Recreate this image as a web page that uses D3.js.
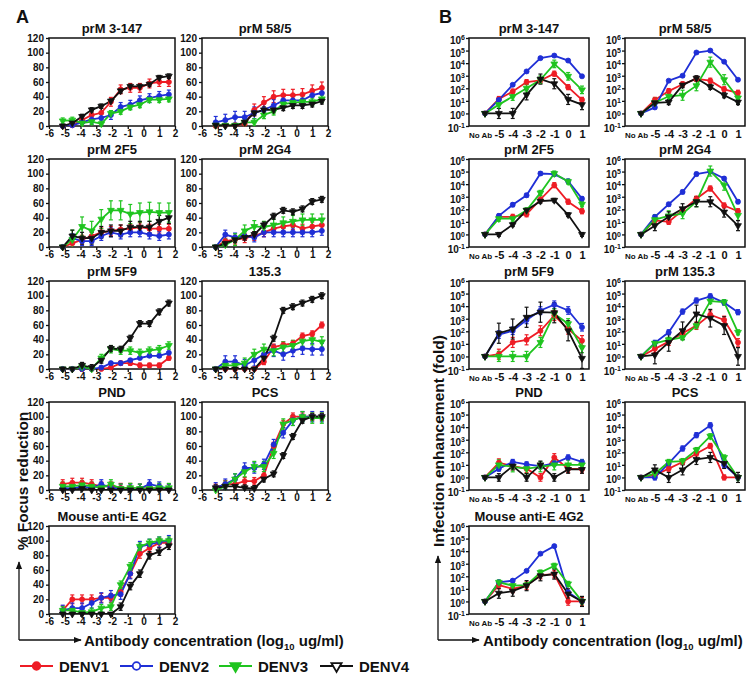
<html>
<head>
<meta charset="utf-8">
<script src="https://cdnjs.cloudflare.com/ajax/libs/d3/7.8.5/d3.min.js"></script>
<style>
    body { margin: 0; background: #fff; }
    svg text { font-family: "Liberation Sans", Arial, sans-serif; font-weight: bold; fill: #111; }
</style>
</head>
<body>
<svg width="751" height="677"></svg>
<script>
// ---- data ----
const serotypes = ["DENV1", "DENV2", "DENV3", "DENV4"];

// panel A: log10 antibody concentration (4-fold dilutions) and % focus reduction
const focusX = [-5.13, -4.52, -3.9, -3.29, -2.68, -2.07, -1.45, -0.84, -0.23, 0.38, 1.0, 1.61];
const focusTicksX = [-6, -5, -4, -3, -2, -1, 0, 1, 2];
const focusTicksY = [0, 20, 40, 60, 80, 100, 120];
const focusTitles = ["prM 3-147", "prM 58/5", "prM 2F5", "prM 2G4", "prM 5F9", "135.3", "PND", "PCS", "Mouse anti-E 4G2"];

// each: [DENV1, DENV2, DENV3, DENV4]
const focus3_147 = [
    [0, 1, 8, 15, 18, 33, 50, 52, 52, 58, 60, 60],
    [0, 1, 5, 9, 11, 15, 26, 29, 35, 38, 41, 43],
    [7, 8, 4, 6, 3, 17, 20, 26, 29, 36, 36, 37],
    [0, 4, 13, 22, 27, 34, 48, 54, 54, 57, 66, 68]
];
const focus58_5 = [
    [0, 1, 1, 3, 22, 32, 40, 42, 42, 43, 48, 52],
    [5, 8, 12, 12, 18, 22, 28, 35, 35, 35, 42, 45],
    [1, 1, 1, 5, 5, 15, 20, 30, 32, 33, 33, 37],
    [1, 0, 0, 5, 18, 22, 22, 25, 28, 28, 30, 34]
];
const focus2F5 = [
    [0, 5, 10, 15, 20, 22, 24, 25, 27, 25, 25, 25],
    [0, 12, 8, 8, 15, 20, 17, 20, 20, 17, 15, 17],
    [0, 10, 28, 22, 38, 50, 50, 45, 47, 48, 47, 47],
    [0, 15, 12, 12, 20, 22, 22, 27, 27, 27, 35, 40]
];
const focus2G4 = [
    [0, 8, 10, 12, 15, 20, 25, 28, 30, 25, 28, 30],
    [0, 17, 13, 15, 13, 20, 20, 20, 20, 20, 20, 22],
    [0, 3, 10, 22, 28, 27, 30, 33, 35, 37, 37, 37],
    [0, 5, 10, 13, 17, 30, 42, 50, 48, 52, 62, 65]
];
const focus5F9 = [
    [0, 0, 0, 0, 0, 2, 8, 8, 5, 5, 5, 15],
    [0, 0, 0, 0, 2, 8, 8, 12, 15, 18, 18, 22],
    [0, 0, 3, 0, 15, 27, 25, 25, 22, 25, 27, 32],
    [0, 0, 5, 2, 12, 28, 27, 42, 62, 62, 78, 90]
];
const focus135_3 = [
    [0, 0, 0, 0, 0, 10, 30, 33, 35, 45, 48, 60],
    [0, 10, 10, 5, 12, 20, 25, 20, 25, 28, 27, 27],
    [0, 5, 5, 8, 20, 27, 25, 30, 32, 38, 40, 37],
    [0, 0, 0, 0, 0, 15, 42, 80, 85, 90, 95, 100]
];
const focusPND = [
    [8, 10, 10, 8, 5, 5, 3, 3, 2, 3, 2, 2],
    [3, 2, 5, 3, 8, 3, 2, 2, 2, 8, 5, 2],
    [5, 5, 7, 5, 3, 8, 2, 3, 2, 2, 3, 3],
    [0, 0, 2, 0, 0, 0, 0, 0, 0, 0, 0, 0]
];
const focusPCS = [
    [3, 8, 8, 12, 12, 20, 60, 90, 100, 100, 100, 100],
    [3, 8, 15, 30, 30, 35, 62, 78, 95, 100, 100, 100],
    [0, 5, 15, 25, 32, 32, 50, 90, 95, 100, 98, 98],
    [3, 5, 5, 3, 2, 15, 22, 47, 73, 95, 100, 100]
];
const focus4G2 = [
    [5, 20, 20, 20, 22, 22, 30, 55, 82, 90, 97, 97],
    [5, 8, 8, 15, 22, 25, 27, 55, 92, 95, 98, 100],
    [5, 5, 2, 3, 8, 10, 40, 65, 92, 97, 100, 100],
    [0, 0, 0, 0, 0, 0, 10, 38, 55, 80, 85, 93]
];
// approximate error bar half-length per series (percent)
const focusErr = [
    [6, 6, 4, 3], [8, 8, 5, 4], [6, 6, 13, 8],
    [6, 6, 8, 4], [3, 2, 5, 4], [4, 8, 7, 4],
    [6, 6, 6, 2], [5, 7, 7, 4], [6, 7, 5, 5]
];
const focusPanels = [focus3_147, focus58_5, focus2F5, focus2G4, focus5F9, focus135_3, focusPND, focusPCS, focus4G2];

// panel B: infection enhancement (fold)
const enhanceX = ["No Ab", "-5", "-4", "-3", "-2", "-1", "0", "1"];
const enhanceTicksY = [0.1, 1, 10, 100, 1e3, 1e4, 1e5, 1e6];
const enhanceTitles = ["prM 3-147", "prM 58/5", "prM 2F5", "prM 2G4", "prM 5F9", "prM 135.3", "PND", "PCS", "Mouse anti-E 4G2"];

const enhance3_147 = [
    [1, 14, 55, 310, 420, 1450, 123, 12],
    [1, 12, 190, 2200, 25000, 40000, 16000, 900],
    [1, 5, 22, 100, 480, 8700, 900, 75],
    [1, 1, 1, 30, 540, 230, 13, 5]
];
const enhance58_5 = [
    [1, 12, 60, 210, 550, 400, 83, 44],
    [1, 3, 400, 1000, 70000, 100000, 13000, 480],
    [1, 7, 23, 28, 160, 12000, 480, 17],
    [1, 7, 8, 180, 630, 130, 28, 8]
];
const enhance2F5 = [
    [1, 25, 25, 40, 600, 8300, 400, 70],
    [1, 30, 230, 1300, 70000, 63000, 17000, 700],
    [1, 18, 18, 83, 2000, 70000, 16000, 250],
    [1, 1, 6, 83, 440, 520, 37, 1]
];
const enhance2G4 = [
    [1, 13, 10, 83, 700, 4500, 200, 70],
    [1, 25, 250, 2400, 63000, 100000, 28000, 400],
    [1, 15, 30, 45, 400, 110000, 8300, 33],
    [1, 5, 25, 110, 400, 400, 60, 5]
];
const enhance5F9 = [
    [1, 1.5, 13, 21, 110, 1800, 150, 18],
    [1, 55, 110, 800, 4500, 13000, 4500, 210],
    [1, 1, 1, 1, 13, 2400, 400, 5],
    [1, 70, 150, 1300, 3300, 3000, 110, 0.7]
];
const enhance135_3 = [
    [1, 4, 15, 70, 280, 2100, 800, 13],
    [1, 12, 83, 3700, 28000, 60000, 19000, 3300],
    [1, 11, 21, 33, 280, 25000, 21000, 83],
    [1, 1.3, 13, 110, 2400, 1100, 280, 1]
];
const enhancePND = [
    [1, 15, 8, 5, 1, 39, 5, 4.5],
    [1, 5, 17, 11, 8, 13, 39, 17],
    [1, 10, 7, 5, 7, 10, 10, 10],
    [1, 1, 8, 1, 10, 1, 4.3, 4.3]
];
const enhancePCS = [
    [1, 1.5, 5, 17, 80, 320, 1, 1],
    [1, 1, 13, 200, 2300, 14000, 10, 1],
    [1, 2, 17, 20, 150, 1900, 39, 1],
    [1, 4, 1, 4, 27, 39, 13, 1]
];
const enhance4G2 = [
    [1, 20, 10, 18, 125, 150, 1, 1],
    [1, 33, 45, 270, 6300, 25000, 5.4, 1],
    [1, 33, 18, 20, 200, 680, 25, 1],
    [1, 4.5, 6.5, 18, 110, 150, 4, 1]
];
// approximate error bar half-length per series (log10 units)
const enhanceErr = [
    [0.2, 0.1, 0.3, 0.4], [0.2, 0.1, 0.4, 0.2], [0.2, 0.15, 0.2, 0.15],
    [0.2, 0.15, 0.4, 0.4], [0.4, 0.3, 0.4, 0.8], [0.3, 0.2, 0.2, 0.7],
    [0.3, 0.2, 0.4, 0.3], [0.2, 0.2, 0.2, 0.4], [0.3, 0.1, 0.2, 0.4]
];
const enhancePanels = [enhance3_147, enhance58_5, enhance2F5, enhance2G4, enhance5F9, enhance135_3, enhancePND, enhancePCS, enhance4G2];

// ---- layout / style ----
const colors = ["#ee1c25", "#1f2fd6", "#1fc41f", "#111111"];
const aCols = [49, 202];
const bCols = [469, 625];
const rowTops = [38, 159, 281, 402, 526];
const panelH = 88;
const aWidth = 126;
const bWidth = 120;

const svg = d3.select("svg");
const defs = svg.append("defs");

const markerPath = (k, size) => d3.symbol()
    .type(k < 2 ? d3.symbolCircle : d3.symbolTriangle)
    .size(size)();
const markerRot = (k) => k < 2 ? "" : " rotate(180)";

const styleAxis = (g, fs) => {
    g.select(".domain").remove();
    g.selectAll(".tick line").attr("stroke", "#111").attr("stroke-width", 1.3);
    g.selectAll(".tick text").attr("font-size", fs).attr("fill", "#111");
};

const addClip = (id, left, top, w) => {
    defs.append("clipPath").attr("id", id)
        .append("rect")
        .attr("x", left).attr("y", top)
        .attr("width", w).attr("height", panelH);
};

const drawSeries = (g, series, xs, y, errs, errOf, skip, clipId) => {
    const plot = g.append("g").attr("clip-path", `url(#${clipId})`);
    series.forEach((vals, k) => {
        const col = colors[k];
        // error bars
        vals.forEach((v, i) => {
            if (skip(v, i)) return;
            const [lo, hi] = errOf(v, errs[k]);
            const px = xs(i);
            plot.append("line")
                .attr("x1", px).attr("x2", px)
                .attr("y1", y(lo)).attr("y2", y(hi))
                .attr("stroke", col).attr("stroke-width", 1.2);
            [lo, hi].forEach((e) => {
                plot.append("line")
                    .attr("x1", px - 2).attr("x2", px + 2)
                    .attr("y1", y(e)).attr("y2", y(e))
                    .attr("stroke", col).attr("stroke-width", 1.2);
            });
        });
        const line = d3.line().x((d, i) => xs(i)).y((d) => y(d));
        plot.append("path")
            .datum(vals)
            .attr("d", line)
            .attr("fill", "none")
            .attr("stroke", col)
            .attr("stroke-width", 1.8);
    });
    series.forEach((vals, k) => {
        g.selectAll(null)
            .data(vals)
            .join("path")
            .attr("d", markerPath(k, 20))
            .attr("transform", (d, i) => `translate(${xs(i)},${y(d)})` + markerRot(k))
            .attr("fill", colors[k])
            .attr("stroke", colors[k])
            .attr("stroke-width", 0.8);
    });
};

const focusPanel = (idx) => {
    const col = idx % 2, row = Math.floor(idx / 2);
    const left = aCols[col], top = rowTops[row];
    const x = d3.scaleLinear().domain([-6, 2]).range([left, left + aWidth]);
    const y = d3.scaleLinear().domain([0, 120]).range([top + panelH, top]);
    const g = svg.append("g");

    g.append("g")
        .attr("transform", `translate(${left},0)`)
        .call(d3.axisLeft(y).tickValues(focusTicksY).tickSize(3).tickPadding(2))
        .call((a) => styleAxis(a, 10));
    g.append("g")
        .attr("transform", `translate(0,${top + panelH})`)
        .call(d3.axisBottom(x).tickValues(focusTicksX).tickSize(3).tickPadding(1).tickFormat((d) => String(d)))
        .call((a) => styleAxis(a, 10));

    g.append("rect")
        .attr("x", left).attr("y", top)
        .attr("width", aWidth).attr("height", panelH)
        .attr("fill", "none").attr("stroke", "#111").attr("stroke-width", 1.5);

    g.append("text")
        .text(focusTitles[idx])
        .attr("x", left + aWidth / 2).attr("y", top - 5)
        .attr("text-anchor", "middle")
        .attr("font-size", 13);

    const clipId = "clipA" + idx;
    addClip(clipId, left, top, aWidth);
    drawSeries(g, focusPanels[idx], (i) => x(focusX[i]), y, focusErr[idx],
        (v, e) => [v - e, v + e], (v) => v <= 1, clipId);
};

const enhancePanel = (idx) => {
    const col = idx % 2, row = Math.floor(idx / 2);
    const left = bCols[col], top = rowTops[row];
    const x = d3.scalePoint().domain(enhanceX).range([left + 16, left + bWidth - 7]);
    const y = d3.scaleLog().domain([0.1, 1e6]).range([top + panelH, top]);
    const g = svg.append("g");

    const ya = g.append("g")
        .attr("transform", `translate(${left},0)`)
        .call(d3.axisLeft(y).tickValues(enhanceTicksY).tickSize(3).tickPadding(1).tickFormat(() => "10"))
        .call((a) => styleAxis(a, 10));
    ya.selectAll(".tick text").each(function (d) {
        const t = d3.select(this);
        t.attr("dy", "0.55em");
        t.append("tspan")
            .attr("dy", "-0.55em")
            .attr("font-size", 7)
            .text(Math.round(Math.log10(d)));
    });

    const xa = g.append("g")
        .attr("transform", `translate(0,${top + panelH})`)
        .call(d3.axisBottom(x).tickSize(0).tickPadding(4))
        .call((a) => styleAxis(a, 11));
    xa.selectAll(".tick text")
        .filter((d) => d === "No Ab")
        .attr("font-size", 8)
        .attr("dx", -5)
        .attr("dy", "0.95em");

    g.append("rect")
        .attr("x", left).attr("y", top)
        .attr("width", bWidth).attr("height", panelH)
        .attr("fill", "none").attr("stroke", "#111").attr("stroke-width", 1.5);

    g.append("text")
        .text(enhanceTitles[idx])
        .attr("x", left + bWidth / 2).attr("y", top - 5)
        .attr("text-anchor", "middle")
        .attr("font-size", 13);

    const clipId = "clipB" + idx;
    addClip(clipId, left, top, bWidth);
    drawSeries(g, enhancePanels[idx], (i) => x(enhanceX[i]), y, enhanceErr[idx],
        (v, e) => [v / Math.pow(10, e), v * Math.pow(10, e)], (v, i) => i === 0, clipId);
};

focusPanels.forEach((p, i) => focusPanel(i));
enhancePanels.forEach((p, i) => enhancePanel(i));

// panel letters
svg.append("text").text("A").attr("x", 16).attr("y", 23).attr("font-size", 18);
svg.append("text").text("B").attr("x", 439).attr("y", 23).attr("font-size", 18);

// arrowhead
defs.append("marker")
    .attr("id", "arrow")
    .attr("viewBox", "0 0 10 10")
    .attr("refX", 9).attr("refY", 5)
    .attr("markerWidth", 6).attr("markerHeight", 6)
    .attr("orient", "auto")
    .append("path")
    .attr("d", "M0,1 L10,5 L0,9 Z")
    .attr("fill", "#111");

const axisArrows = (cx, topY, cornerY, rightX) => {
    svg.append("path")
        .attr("d", `M${cx},${cornerY} L${cx},${topY}`)
        .attr("stroke", "#111").attr("stroke-width", 1.3).attr("fill", "none")
        .attr("marker-end", "url(#arrow)");
    svg.append("path")
        .attr("d", `M${cx},${cornerY} L${rightX},${cornerY}`)
        .attr("stroke", "#111").attr("stroke-width", 1.3).attr("fill", "none")
        .attr("marker-end", "url(#arrow)");
};
axisArrows(19, 562, 640, 81);
axisArrows(438, 556, 640, 479);

const xLabel = (x0) => {
    const t = svg.append("text").attr("x", x0).attr("y", 646).attr("font-size", 15);
    t.append("tspan").text("Antibody concentration (log");
    t.append("tspan").text("10").attr("font-size", 9.5).attr("dy", 4);
    t.append("tspan").text(" ug/ml)").attr("dy", -4);
};
xLabel(84);
xLabel(483);

svg.append("text")
    .text("% Focus reduction")
    .attr("transform", "translate(28,481) rotate(-90)")
    .attr("text-anchor", "middle")
    .attr("font-size", 15.5);
svg.append("text")
    .text("Infection enhancement (fold)")
    .attr("transform", "translate(444,441) rotate(-90)")
    .attr("text-anchor", "middle")
    .attr("font-size", 15.5);

// legend
const legendX = [20, 120, 219, 320];
const legend = svg.append("g");
serotypes.forEach((s, k) => {
    const lx = legendX[k];
    legend.append("line")
        .attr("x1", lx).attr("x2", lx + 33)
        .attr("y1", 666).attr("y2", 666)
        .attr("stroke", colors[k]).attr("stroke-width", 2);
    legend.append("path")
        .attr("d", markerPath(k, 45))
        .attr("transform", `translate(${lx + 16.5},666)` + markerRot(k))
        .attr("fill", (k === 1 || k === 3) ? "#fff" : colors[k])
        .attr("stroke", colors[k])
        .attr("stroke-width", 1.8);
    legend.append("text")
        .text(s)
        .attr("x", lx + 39).attr("y", 671.5)
        .attr("font-size", 15);
});
</script>
</body>
</html>
